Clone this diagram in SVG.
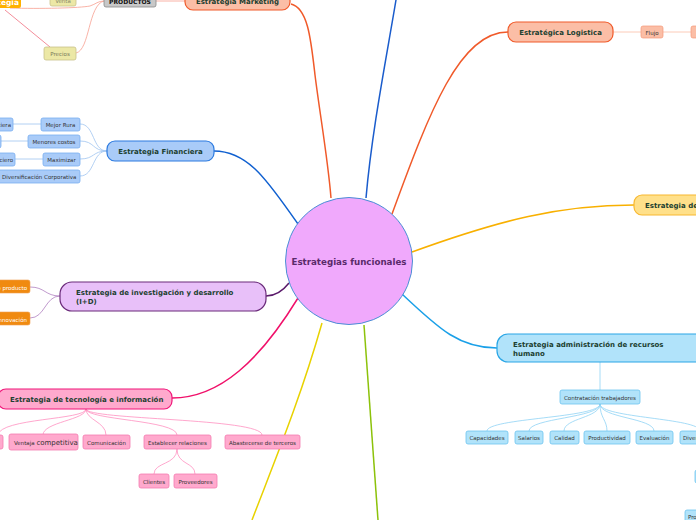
<svg xmlns="http://www.w3.org/2000/svg" width="696" height="520" viewBox="0 0 696 520">
<style>
text{font-family:"DejaVu Sans","Liberation Sans",sans-serif}
.main{font-size:7px;font-weight:bold;fill:#1c4030}
.sm{font-size:5.5px;fill:#333}
.c{fill:none;stroke-width:1.5}
.s{fill:none;stroke-width:0.8}
.mk{fill:#fbbea6;stroke:#f05a2a;stroke-width:1.2}
.fin{fill:#a9cbf8;stroke:#2d7be0;stroke-width:1.2}
.finc{fill:#a9cbf8;stroke:#79aef0;stroke-width:0.8}
.rh{fill:#b1e3fa;stroke:#2aa6e6;stroke-width:1.2}
.rhc{fill:#b1e3fa;stroke:#6cc4ef;stroke-width:0.8}
.tec{fill:#ffa9cd;stroke:#f0177a;stroke-width:1.2}
.tecc{fill:#ffa9cd;stroke:#f47bb0;stroke-width:0.8}
.kh{fill:#ece8a6;stroke:#c9c28a;stroke-width:0.8}
</style>
<g id="connectors">
<path class="c" stroke="#f05a2a" d="M291,4 C308,8 311,40 315,75 C320,115 328,160 331,198"/>
<path class="c" stroke="#1a5ccc" d="M366,198 C372,130 386,60 396,0"/>
<path class="c" stroke="#f05a2a" d="M392,214 C430,110 460,32 508,32"/>
<path class="c" stroke="#f8b000" d="M412,252 C500,220 560,205 634,205"/>
<path class="c" stroke="#1aa0e8" d="M402,294 C440,330 460,348 497,348"/>
<path class="c" stroke="#8cc20a" d="M364,325 C370,400 374,460 378,520"/>
<path class="c" stroke="#e8d200" d="M322,323 C300,400 275,460 252,520"/>
<path class="c" stroke="#f0106a" d="M298,298 C260,360 220,398 172,398"/>
<path class="c" stroke="#5a1a6a" d="M289,283 C282,292 275,296 266,296"/>
<path class="c" stroke="#1060d0" d="M298,224 C270,185 250,151 214,151"/>
<path class="s" stroke="#f8a090" d="M156,1 L185,1"/>
<path class="s" stroke="#f8a090" d="M10,8 C40,9 80,8 90,6 C96,4 98,1 104,1"/>
<path class="s" stroke="#f8a090" d="M76,53 C90,50 88,5 104,1"/>
<path class="s" stroke="#f07080" d="M5,10 L50,47"/>
<path class="s" stroke="#a0c4f0" d="M107,151 C92,151 95,124 80,124"/>
<path class="s" stroke="#a0c4f0" d="M107,151 C92,151 95,141 80,141"/>
<path class="s" stroke="#a0c4f0" d="M107,151 C92,151 95,159 80,159"/>
<path class="s" stroke="#a0c4f0" d="M107,151 C92,151 95,176 80,176"/>
<path class="s" stroke="#a0c4f0" d="M41,124 L13,124"/>
<path class="s" stroke="#a0c4f0" d="M28,141 L1,141"/>
<path class="s" stroke="#a0c4f0" d="M43,159 L15,159"/>
<path class="s" stroke="#b080c0" d="M60,296 C45,296 45,287 30,287"/>
<path class="s" stroke="#b080c0" d="M60,296 C45,296 45,318 30,318"/>
<path class="s" stroke="#ff90c0" d="M86,409 C86,420 0,418 -2,435"/>
<path class="s" stroke="#ff90c0" d="M86,409 C86,420 43,422 43,435"/>
<path class="s" stroke="#ff90c0" d="M86,409 C86,420 106,422 106,435"/>
<path class="s" stroke="#ff90c0" d="M86,409 C86,420 177,420 177,435"/>
<path class="s" stroke="#ff90c0" d="M86,409 C86,420 262,418 262,435"/>
<path class="s" stroke="#ff90c0" d="M177,449 C177,465 154,462 154,474"/>
<path class="s" stroke="#ff90c0" d="M177,449 C177,465 195,462 195,474"/>
<path class="s" stroke="#fbbea6" d="M613,32 L641,32"/>
<path class="s" stroke="#fbbea6" d="M663,32 L692,32"/>
<path class="s" stroke="#8fd3f5" d="M600,362 L600,390"/>
<path class="s" stroke="#8fd3f5" d="M600,404 C600,418 487,418 487,431"/>
<path class="s" stroke="#8fd3f5" d="M600,404 C600,418 529,418 529,431"/>
<path class="s" stroke="#8fd3f5" d="M600,404 C600,418 564,418 564,431"/>
<path class="s" stroke="#8fd3f5" d="M600,404 C600,418 607,420 607,431"/>
<path class="s" stroke="#8fd3f5" d="M600,404 C600,418 654,418 654,431"/>
<path class="s" stroke="#8fd3f5" d="M600,404 C600,418 700,418 700,431"/>
</g>
<g id="center">
<circle cx="349" cy="261" r="63.5" fill="#f0a9fc" stroke="#4a8fd6" stroke-width="1"/>
<text x="349" y="264.5" text-anchor="middle" style="font-size:8.7px;font-weight:bold;fill:#5a2a6a">Estrategias funcionales</text>
</g>
<g id="marketing">
<rect class="mk" x="185" y="-10" width="105" height="20" rx="8"/>
<text class="main" x="237.5" y="4" text-anchor="middle">Estrategia Marketing</text>
</g>
<g id="productos">
<rect x="104" y="-6" width="52" height="13" rx="2" fill="#c8c8c8" stroke="#888" stroke-width="0.8"/>
<text x="130" y="4" text-anchor="middle" style="font-size:6px;font-weight:bold;fill:#111">PRODUCTOS</text>
</g>
<g id="venta">
<rect class="kh" x="50" y="-6" width="26" height="12" rx="2"/>
<text class="sm" x="63" y="3" text-anchor="middle" style="fill:#8a8a6a">Venta</text>
</g>
<g id="precios">
<rect class="kh" x="44" y="47" width="32" height="13" rx="2"/>
<text class="sm" x="60" y="56" text-anchor="middle" style="fill:#7a7a5a">Precios</text>
</g>
<g id="estrategia-orange">
<rect x="-30" y="-6" width="51" height="14" rx="2" fill="#ffb000"/>
<text x="19" y="5" text-anchor="end" style="font-size:7.5px;font-weight:bold;fill:#fff">Estrategia</text>
</g>
<g id="financiera">
<rect class="fin" x="107" y="141" width="107" height="20" rx="8"/>
<text class="main" x="160.5" y="154" text-anchor="middle">Estrategia Financiera</text>
</g>
<g id="fin-children">
<rect class="finc" x="41" y="118" width="39" height="13" rx="2"/>
<text class="sm" x="60.5" y="127" text-anchor="middle">Mejor Rura</text>
<rect class="finc" x="-30" y="118" width="43" height="13" rx="2"/>
<text class="sm" x="11" y="127" text-anchor="end">Financiera</text>
<rect class="finc" x="28" y="135" width="52" height="13" rx="2"/>
<text class="sm" x="54" y="144" text-anchor="middle">Menores costos</text>
<rect class="finc" x="-30" y="135" width="31" height="13" rx="2"/>
<rect class="finc" x="43" y="153" width="37" height="13" rx="2"/>
<text class="sm" x="61.5" y="162" text-anchor="middle">Maximizar</text>
<rect class="finc" x="-30" y="153" width="45" height="13" rx="2"/>
<text class="sm" x="13" y="162" text-anchor="end">Financiero</text>
<rect class="finc" x="-10" y="170" width="90" height="13" rx="2"/>
<text class="sm" x="2" y="179">Diversificación Corporativa</text>
</g>
<g id="id">
<rect x="60" y="282" width="206" height="29" rx="12" fill="#e8c0f9" stroke="#6a2a7a" stroke-width="1.2"/>
<text class="main" x="76" y="295">Estrategia de investigación y desarrollo</text>
<text class="main" x="76" y="304">(I+D)</text>
</g>
<g id="id-children">
<rect x="-30" y="280" width="60" height="13" rx="2" fill="#f08a10" stroke="#f0a050" stroke-width="0.6"/>
<text x="27" y="289.5" text-anchor="end" style="font-size:5.5px;fill:#fff">Nuevo producto</text>
<rect x="-30" y="312" width="60" height="13" rx="2" fill="#f08a10" stroke="#f0a050" stroke-width="0.6"/>
<text x="27" y="321.5" text-anchor="end" style="font-size:5.5px;fill:#fff">Innovación</text>
</g>
<g id="tecnologia">
<rect class="tec" x="-2" y="389" width="174" height="20" rx="8"/>
<text class="main" x="10" y="402">Estrategia de tecnología e información</text>
</g>
<g id="tec-children">
<rect class="tecc" x="-30" y="435" width="33" height="14" rx="2"/>
<rect class="tecc" x="9" y="434" width="69" height="16" rx="2"/>
<text x="14" y="445" style="font-size:5.5px;fill:#333">Ventaja <tspan style="font-size:7px">competitiva</tspan></text>
<rect class="tecc" x="83" y="435" width="47" height="14" rx="2"/>
<text class="sm" x="106.5" y="444.5" text-anchor="middle">Comunicación</text>
<rect class="tecc" x="144" y="435" width="67" height="14" rx="2"/>
<text class="sm" x="177.5" y="444.5" text-anchor="middle">Establecer relaciones</text>
<rect class="tecc" x="225" y="435" width="75" height="14" rx="2"/>
<text class="sm" x="262.5" y="444.5" text-anchor="middle">Abastecerse de terceros</text>
<rect class="tecc" x="139" y="474" width="30" height="14" rx="2"/>
<text class="sm" x="154" y="483.5" text-anchor="middle">Clientes</text>
<rect class="tecc" x="174" y="474" width="43" height="14" rx="2"/>
<text class="sm" x="195.5" y="483.5" text-anchor="middle">Proveedores</text>
</g>
<g id="logistica">
<rect class="mk" x="508" y="22" width="105" height="20" rx="8"/>
<text class="main" x="560.5" y="35" text-anchor="middle">Estratégica Logistica</text>
<rect x="641" y="26" width="22" height="12" rx="2" fill="#fbbea6" stroke="#f59a7a" stroke-width="0.7"/>
<text class="sm" x="652" y="34.5" text-anchor="middle">Flujo</text>
<rect x="691" y="26" width="30" height="12" rx="2" fill="#fbbea6" stroke="#f59a7a" stroke-width="0.7"/>
</g>
<g id="estrategia-de">
<rect x="634" y="195" width="80" height="20" rx="8" fill="#ffe08a" stroke="#f8b830" stroke-width="1.2"/>
<text class="main" x="645" y="208">Estrategia de</text>
</g>
<g id="rh">
<rect class="rh" x="497" y="334" width="220" height="28" rx="11"/>
<text class="main" x="513" y="347">Estrategia administración de recursos</text>
<text class="main" x="513" y="356">humano</text>
</g>
<g id="rh-children">
<rect class="rhc" x="560" y="390" width="80" height="14" rx="2"/>
<text class="sm" x="600" y="399.5" text-anchor="middle">Contratación trabajadores</text>
<rect class="rhc" x="466" y="431" width="42" height="13" rx="2"/>
<text class="sm" x="487" y="440" text-anchor="middle">Capacidades</text>
<rect class="rhc" x="515" y="431" width="28" height="13" rx="2"/>
<text class="sm" x="529" y="440" text-anchor="middle">Salarios</text>
<rect class="rhc" x="550" y="431" width="29" height="13" rx="2"/>
<text class="sm" x="564.5" y="440" text-anchor="middle">Calidad</text>
<rect class="rhc" x="584" y="431" width="46" height="13" rx="2"/>
<text class="sm" x="607" y="440" text-anchor="middle">Productividad</text>
<rect class="rhc" x="636" y="431" width="37" height="13" rx="2"/>
<text class="sm" x="654.5" y="440" text-anchor="middle">Evaluación</text>
<rect class="rhc" x="680" y="431" width="40" height="13" rx="2"/>
<text class="sm" x="683" y="440">Diversidad</text>
<rect class="rhc" x="695" y="470" width="20" height="13" rx="2"/>
<rect class="rhc" x="685" y="510" width="30" height="13" rx="2"/>
<text class="sm" x="688" y="519">Pro</text>
</g>
</svg>
